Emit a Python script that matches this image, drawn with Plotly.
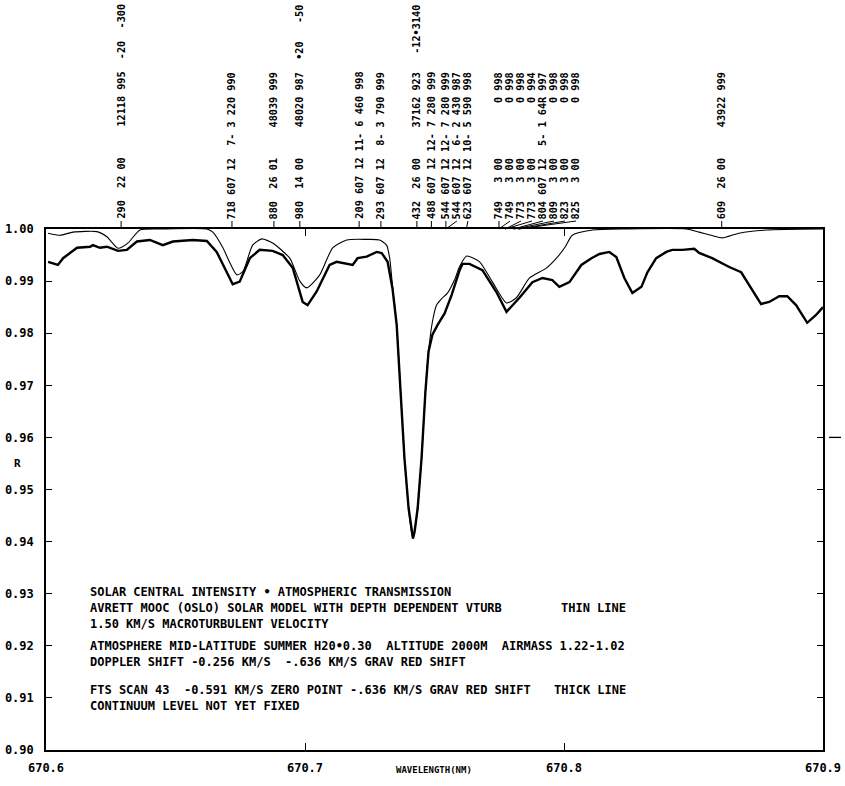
import plotly.graph_objects as go

# model spectrum (thin line): wavelength (nm) and relative intensity
thin_wl = [670.6008, 670.6054, 670.6104, 670.6197, 670.6235, 670.6278, 670.6316, 670.6363,
           670.6451, 670.6621, 670.6644, 670.6683, 670.6710, 670.6737, 670.6760, 670.6798,
           670.6833, 670.6875, 670.6941, 670.6980, 670.7007, 670.7057, 670.7107, 670.7161,
           670.7238, 670.7288, 670.7315, 670.7327, 670.7338, 670.7354, 670.7369, 670.7384,
           670.7400, 670.7411, 670.7417, 670.7423, 670.7435, 670.7450, 670.7465, 670.7477,
           670.7492, 670.7508, 670.7527, 670.7550, 670.7577, 670.7597, 670.7624, 670.7674,
           670.7724, 670.7778, 670.7816, 670.7867, 670.7932, 670.7971, 670.8005, 670.8032,
           670.8110, 670.8241, 670.8472, 670.8522, 670.8568, 670.8611, 670.8676, 670.8781,
           670.9000]
thin_r = [0.9992, 0.9988, 0.9994, 0.9995, 0.9985, 0.9963, 0.9973, 0.9998,
          1.0000, 1.0000, 0.9994, 0.9964, 0.9935, 0.9912, 0.9918, 0.9969,
          0.9981, 0.9973, 0.9944, 0.9900, 0.9887, 0.9912, 0.9964, 0.9979,
          0.9980, 0.9979, 0.9969, 0.9944, 0.9890, 0.9816, 0.9688, 0.9560,
          0.9464, 0.9419, 0.9406, 0.9419, 0.9464, 0.9560, 0.9688, 0.9765,
          0.9822, 0.9854, 0.9866, 0.9877, 0.9902, 0.9928, 0.9948, 0.9937,
          0.9898, 0.9858, 0.9868, 0.9906, 0.9925, 0.9944, 0.9966, 0.9988,
          0.9998, 1.0000, 1.0000, 0.9994, 0.9988, 0.9983, 0.9992, 0.9998,
          1.0000]

# FTS scan (thick line)
thick_wl = [670.6008, 670.6046, 670.6066, 670.6120, 670.6170, 670.6181, 670.6208, 670.6235,
            670.6278, 670.6312, 670.6351, 670.6401, 670.6451, 670.6490, 670.6567, 670.6621,
            670.6659, 670.6698, 670.6721, 670.6748, 670.6787, 670.6825, 670.6875, 670.6914,
            670.6953, 670.6991, 670.7010, 670.7045, 670.7095, 670.7122, 670.7145, 670.7184,
            670.7203, 670.7238, 670.7277, 670.7296, 670.7319, 670.7338, 670.7354, 670.7369,
            670.7384, 670.7400, 670.7411, 670.7417, 670.7423, 670.7435, 670.7450, 670.7465,
            670.7477, 670.7492, 670.7512, 670.7539, 670.7566, 670.7597, 670.7608, 670.7635,
            670.7685, 670.7739, 670.7778, 670.7828, 670.7878, 670.7917, 670.7955, 670.7982,
            670.8021, 670.8067, 670.8106, 670.8137, 670.8175, 670.8202, 670.8233, 670.8264,
            670.8299, 670.8322, 670.8356, 670.8395, 670.8418, 670.8457, 670.8503, 670.8522,
            670.8572, 670.8638, 670.8684, 670.8723, 670.8761, 670.8792, 670.8831, 670.8862,
            670.8896, 670.8939, 670.8973, 670.9000]
thick_r = [0.9937, 0.9931, 0.9944, 0.9964, 0.9966, 0.9969, 0.9964, 0.9966,
           0.9958, 0.9960, 0.9976, 0.9979, 0.9969, 0.9976, 0.9979, 0.9977,
           0.9956, 0.9918, 0.9894, 0.9899, 0.9944, 0.9960, 0.9958, 0.9950,
           0.9925, 0.9860, 0.9854, 0.9880, 0.9931, 0.9937, 0.9935, 0.9931,
           0.9944, 0.9947, 0.9956, 0.9954, 0.9937, 0.9885, 0.9816, 0.9688,
           0.9560, 0.9464, 0.9419, 0.9406, 0.9419, 0.9464, 0.9560, 0.9688,
           0.9765, 0.9797, 0.9816, 0.9838, 0.9873, 0.9921, 0.9933, 0.9933,
           0.9921, 0.9879, 0.9841, 0.9868, 0.9898, 0.9906, 0.9902, 0.9889,
           0.9898, 0.9931, 0.9944, 0.9952, 0.9956, 0.9946, 0.9906, 0.9877,
           0.9889, 0.9917, 0.9944, 0.9956, 0.9960, 0.9960, 0.9962, 0.9954,
           0.9944, 0.9927, 0.9917, 0.9887, 0.9856, 0.9860, 0.9871, 0.9871,
           0.9854, 0.9820, 0.9835, 0.9850]

# line identifications along the top
line_wl = [670.6290, 670.6718, 670.6880, 670.6980, 670.7209, 670.7293, 670.7432, 670.7488,
           670.7544, 670.7544, 670.7623, 670.7749, 670.7749, 670.7773, 670.7773, 670.7804,
           670.7809, 670.7823, 670.7825, 670.8609]
line_id = ["290", "718", "880", "980", "209", "293", "432", "488", "544", "544", "623",
           "749", "749", "773", "773", "804", "809", "823", "825", "609"]
line_b = ["22 00", "607 12", "26 01", "14 00", "607 12", "607 12", "26 00", "607 12",
          "607 12", "607 12", "607 12", "3 00", "3 00", "3 00", "3 00", "607 12",
          "3 00", "3 00", "3 00", "26 00"]
line_c = ["12118 995", "7- 3 220 990", "48039 999", "48020 987", "11- 6 460 998",
          "8- 3 790 999", "37162 923", "12- 7 280 999", "12- 7 280 999", "6- 2 430 987",
          "10- 5 590 998", "0 998", "0 998", "0 998", "0 994", "5- 1 64R 997",
          "0 998", "0 998", "0 998", "43922 999"]
line_tail = ["-20  -300", "", "", "•20   -50", "", "", "-12•3140", "", "", "", "",
             "", "", "", "", "", "", "", "", ""]

notes = [
    "SOLAR CENTRAL INTENSITY • ATMOSPHERIC TRANSMISSION",
    "AVRETT MOOC (OSLO) SOLAR MODEL WITH DEPTH DEPENDENT VTURB",
    "1.50 KM/S MACROTURBULENT VELOCITY",
    "ATMOSPHERE MID-LATITUDE SUMMER H20•0.30  ALTITUDE 2000M  AIRMASS 1.22-1.02",
    "DOPPLER SHIFT -0.256 KM/S  -.636 KM/S GRAV RED SHIFT",
    "FTS SCAN 43  -0.591 KM/S ZERO POINT -.636 KM/S GRAV RED SHIFT",
    "CONTINUUM LEVEL NOT YET FIXED",
]
notes_right = ["", "THIN LINE", "", "", "", "THICK LINE", ""]

x_ticks = [670.6, 670.7, 670.8, 670.9]
y_ticks = [0.90, 0.91, 0.92, 0.93, 0.94, 0.95, 0.96, 0.97, 0.98, 0.99, 1.00]

# layout geometry in screen pixels
W, H = 845, 786
ML, MR, MT, MB = 46, 22, 229, 36
PW, PH = W - ML - MR, H - MT - MB
X0, X1 = 670.6, 670.9
MONO = "DejaVu Sans Mono"


def py(ypx):
    return (H - MB - ypx) / PH


def px(xpx):
    return (xpx - ML) / PW


fig = go.Figure()
fig.add_trace(go.Scatter(x=thin_wl, y=thin_r, mode="lines",
                         line=dict(color="black", width=1.1, shape="spline", smoothing=0.6)))
fig.add_trace(go.Scatter(x=thick_wl, y=thick_r, mode="lines",
                         line=dict(color="black", width=2.4)))

# spread crowded identification labels so they don't overlap
gap = 11 * (X1 - X0) / PW
shown = []
for wl in line_wl:
    pos = wl if not shown else max(wl, shown[-1] + gap)
    shown.append(pos)

label_base = py(221)
for wl, pos, i, b, c, t in zip(line_wl, shown, line_id, line_b, line_c, line_tail):
    txt = i + " " + b.rjust(6) + " " + c.rjust(13)
    if t:
        txt += " " + t.rjust(10)
    fig.add_shape(type="line", xref="x", yref="paper", x0=wl, x1=pos, y0=1.0, y1=label_base,
                  line=dict(color="black", width=1))
    fig.add_annotation(x=pos, y=label_base, xref="x", yref="paper", text=txt.replace(" ", "\u00a0"),
                       textangle=-90, showarrow=False, xanchor="center", yanchor="bottom",
                       font=dict(family=MONO, size=10.2, color="black", weight="bold"))

rows = [592, 608, 624, 646, 662, 690, 706]
for yy, left, right in zip(rows, notes, notes_right):
    fig.add_annotation(x=px(88), y=py(yy), xref="paper", yref="paper", showarrow=False,
                       text=left.replace(" ", "\u00a0"), xanchor="left", yanchor="middle",
                       font=dict(family=MONO, size=12, color="black", weight="bold"))
    if right:
        fig.add_annotation(x=px(628), y=py(yy), xref="paper", yref="paper", showarrow=False,
                           text=right.replace(" ", "\u00a0"), xanchor="right", yanchor="middle",
                           font=dict(family=MONO, size=12, color="black", weight="bold"))

fig.add_annotation(x=px(12), y=py(463), xref="paper", yref="paper", text="R", showarrow=False,
                   font=dict(family=MONO, size=11, color="black", weight="bold"))
fig.add_annotation(x=px(434), y=py(777), xref="paper", yref="paper", text="WAVELENGTH(NM)",
                   showarrow=False, font=dict(family=MONO, size=9, color="black", weight="bold"))
# stray mark outside right frame
fig.add_shape(type="line", xref="paper", yref="y", x0=px(829), x1=px(841), y0=0.96, y1=0.96,
              line=dict(color="black", width=1.3))

fig.update_xaxes(range=[X0, X1], tickvals=x_ticks, ticktext=[f"{v:.1f}" for v in x_ticks],
                 ticks="inside", ticklen=7, tickwidth=1.3, tickcolor="black",
                 showline=True, linecolor="black", linewidth=1.6, mirror="ticks",
                 showgrid=False, zeroline=False, ticklabelstandoff=6, automargin=False,
                 tickfont=dict(family=MONO, size=12, color="black", weight="bold"))
fig.update_yaxes(range=[0.90, 1.00], tickvals=y_ticks, ticktext=[f"{v:.2f}" for v in y_ticks],
                 ticks="inside", ticklen=6, tickwidth=1.3, tickcolor="black",
                 showline=True, linecolor="black", linewidth=1.6, mirror="ticks",
                 showgrid=False, zeroline=False, ticklabelstandoff=8, automargin=False,
                 tickfont=dict(family=MONO, size=12, color="black", weight="bold"))
fig.update_layout(width=W, height=H, margin=dict(l=ML, r=MR, t=MT, b=MB),
                  paper_bgcolor="white", plot_bgcolor="white", showlegend=False)

# drop the page's default body margin so the figure sits at the window origin
fig.write_html("out.html", config={"displayModeBar": False},
               post_script="document.body.style.margin='0';document.body.style.overflow='hidden';")
